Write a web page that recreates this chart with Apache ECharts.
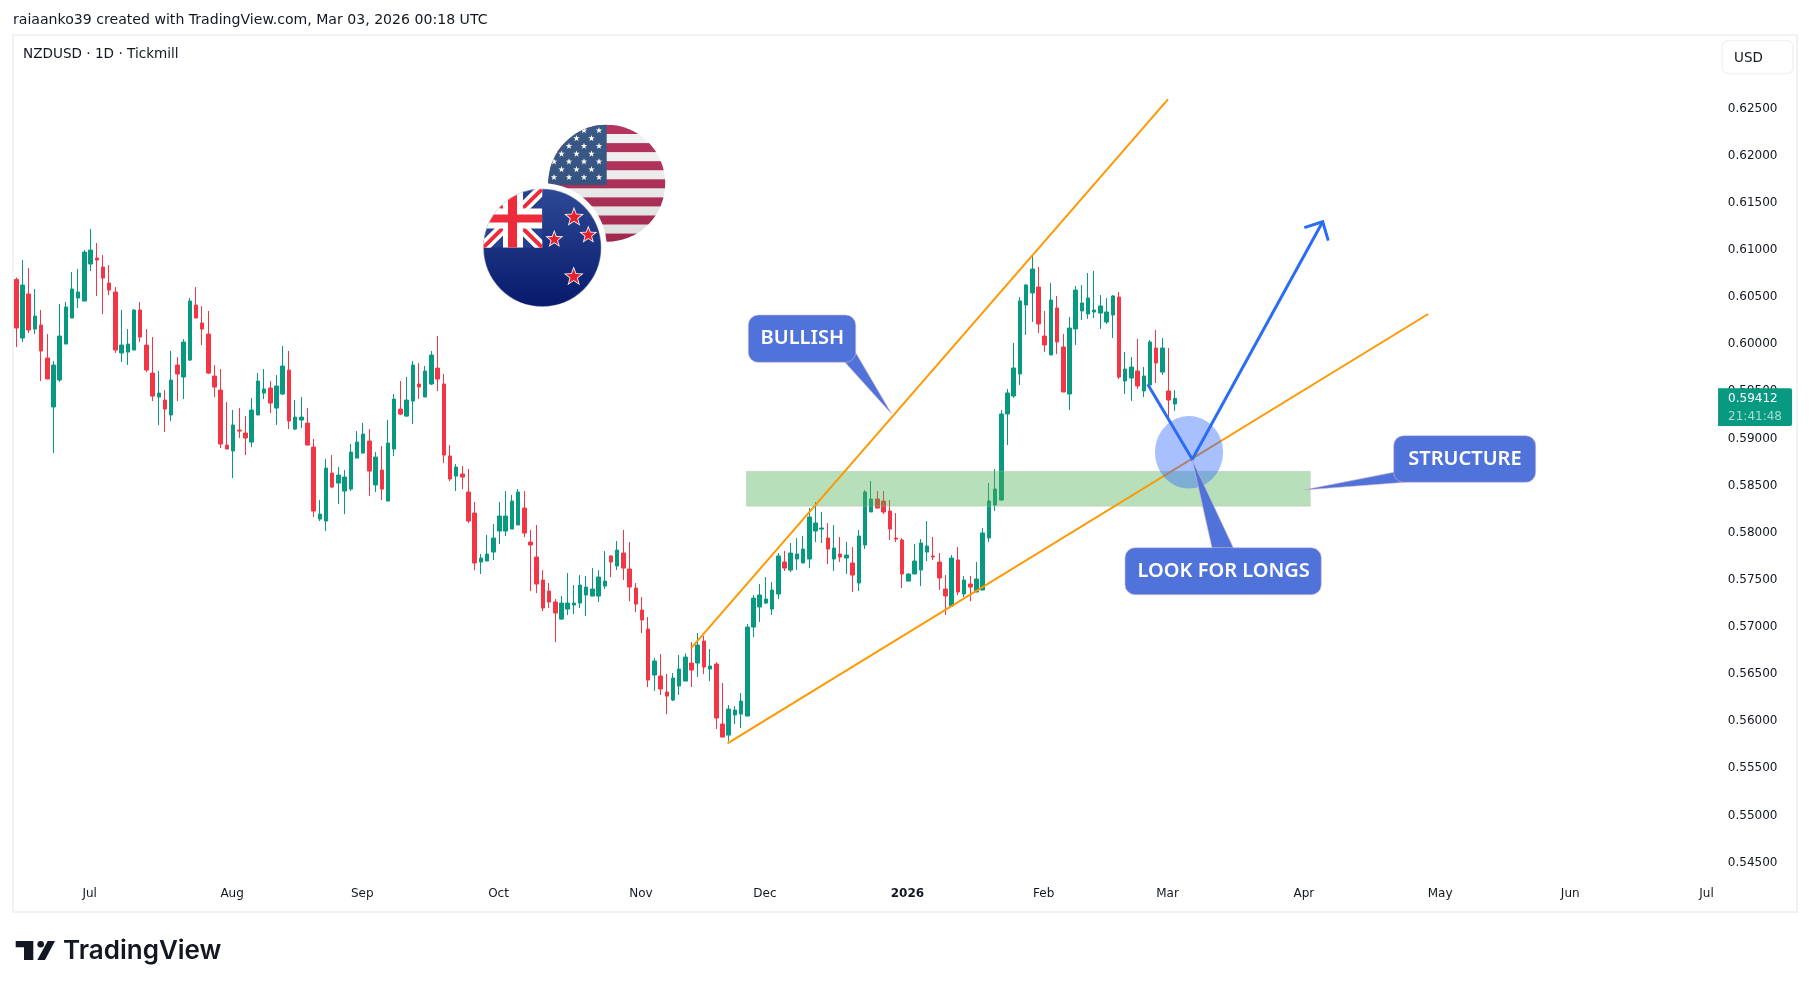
<!DOCTYPE html>
<html><head><meta charset="utf-8">
<style>html,body{margin:0;padding:0;background:#fff}#c{width:1810px;height:990px}</style>
<script src="https://cdn.jsdelivr.net/npm/echarts@6/dist/echarts.min.js"></script>
</head><body><div id="c"></div>
<script>
const opens=[.60674,.60052,.60519,.60147,.60190,.59840,.59320,.59606,.59988,.60264,
.60476,.60444,.60837,.60901,.60805,.60635,.60540,.59893,.59903,.59924,
.60349,.59977,.59680,.59426,.59394,.59235,.59765,.59638,.59818,.60402,
.60211,.60094,.59648,.59500,.58916,.58853,.59075,.59044,.58948,.59235,
.59468,.59521,.59309,.59458,.59712,.59086,.59182,.59150,.58895,.58131,
.58110,.58619,.58513,.58428,.58449,.58778,.58831,.58959,.58492,.58651,
.58322,.58874,.59298,.59224,.59383,.59564,.59426,.59564,.59733,.59564,
.58800,.58587,.58609,.58418,.58195,.57675,.57686,.57781,.58004,.58004,
.58025,.58068,.58248,.57887,.57728,.57484,.57367,.57251,.57070,.57176,
.57219,.57240,.57325,.57314,.57314,.57420,.57739,.57633,.57771,.57601,
.57399,.57166,.56964,.56476,.56466,.56296,.56211,.56359,.56412,.56603,
.56603,.56837,.56540,.56593,.55956,.55839,.56052,.56062,.56041,.56985,
.57198,.57240,.57176,.57336,.57675,.57590,.57707,.57665,.57707,.58004,
.58025,.57930,.57707,.57760,.57718,.57665,.57452,.57856,.58206,.58344,
.58322,.58216,.57930,.57909,.57473,.57548,.57590,.57781,.57739,.57675,
.57389,.57208,.57697,.57336,.57442,.57357,.57378,.57930,.58280,.58333,
.59246,.59437,.59670,.60402,.60530,.60593,.60073,.59872,.60371,.59957,
.59458,.60148,.60339,.60307,.60328,.60317,.60222,.60296,.60487,.59596,
.59628,.59702,.59490,.59553,.59946,.59691,.59490,.59352];
const highs=[.60695,.60879,.60794,.60572,.60349,.60094,.59808,.60412,.60434,.60752,
.60784,.60985,.61208,.61060,.60932,.60826,.60593,.60349,.60147,.60359,
.60434,.60147,.60062,.59702,.59500,.59914,.59850,.60041,.60476,.60593,
.60391,.60338,.59765,.59723,.59373,.59288,.59309,.59224,.59415,.59680,
.59723,.59595,.59659,.59967,.59914,.59394,.59426,.59309,.58980,.58333,
.58768,.58810,.58683,.58651,.58927,.59065,.59150,.59086,.58842,.58906,
.59182,.59458,.59595,.59638,.59808,.59786,.59755,.59914,.60073,.59670,
.58916,.58715,.58694,.58662,.58312,.57760,.57962,.58078,.58312,.58429,
.58386,.58450,.58429,.58015,.58068,.57590,.57452,.57283,.57314,.57558,
.57431,.57537,.57527,.57611,.57590,.57792,.57749,.57898,.58015,.57887,
.57452,.57304,.57092,.56657,.56699,.56487,.56497,.56688,.56706,.56826,
.56922,.56890,.56752,.56614,.56391,.56158,.56147,.56285,.57017,.57325,
.57442,.57516,.57463,.57771,.57792,.57877,.57930,.57951,.58248,.58312,
.58206,.58089,.58068,.57940,.57887,.57834,.58015,.58439,.58535,.58429,
.58429,.58333,.58195,.57930,.57558,.57866,.57919,.58110,.57941,.57771,
.57537,.57750,.57834,.57527,.57527,.57675,.58036,.58514,.58662,.59288,
.59511,.59999,.60487,.60625,.60933,.60806,.60339,.60636,.60498,.60095,
.60275,.60604,.60615,.60742,.60763,.60508,.60477,.60508,.60540,.59904,
.59851,.60042,.59744,.60031,.60137,.60052,.59946,.59500];
const lows=[.59956,.60009,.60105,.60094,.59595,.59617,.58831,.59585,.59988,.60264,
.60370,.60444,.60763,.60497,.60306,.60508,.59893,.59797,.59765,.59924,
.60009,.59691,.59383,.59129,.59054,.59171,.59383,.59404,.59808,.60264,
.59977,.59670,.59426,.58885,.58874,.58566,.58991,.58810,.58895,.59235,
.59404,.59256,.59129,.59447,.59086,.59075,.59097,.58916,.58152,.58110,
.58004,.58460,.58290,.58184,.58428,.58778,.58831,.58375,.58418,.58333,
.58322,.58800,.59235,.59213,.59139,.59404,.59426,.59553,.59489,.58725,
.58534,.58428,.58449,.58089,.57590,.57548,.57686,.57696,.57866,.57951,
.58025,.58068,.57940,.57367,.57346,.57155,.57187,.56826,.57060,.57113,
.57123,.57187,.57102,.57314,.57251,.57389,.57516,.57590,.57484,.57261,
.57145,.56922,.56349,.56306,.56264,.56062,.56200,.56264,.56412,.56349,
.56455,.56487,.56412,.55903,.55818,.55776,.55956,.55914,.56041,.56879,
.57039,.57229,.57113,.57283,.57580,.57569,.57590,.57665,.57611,.57887,
.57877,.57654,.57580,.57675,.57548,.57357,.57367,.57813,.58206,.58248,
.58185,.57909,.57887,.57399,.57473,.57548,.57420,.57686,.57697,.57378,
.57113,.57208,.57325,.57304,.57261,.57357,.57378,.57888,.58216,.58323,
.58917,.59416,.59553,.60084,.60222,.60105,.59904,.59872,.59882,.59479,
.59288,.59978,.60243,.60254,.60264,.60148,.60201,.60052,.59617,.59458,
.59384,.59511,.59426,.59553,.59575,.59660,.59161,.59278];
const closes=[.60158,.60614,.60137,.60285,.59914,.59617,.59765,.60073,.60381,.60572,
.60540,.60964,.60985,.60879,.60688,.60561,.59924,.59977,.59988,.60349,
.60062,.59712,.59436,.59468,.59298,.59606,.59670,.60009,.60444,.60264,
.60147,.59680,.59532,.58927,.58874,.59129,.59065,.58991,.59288,.59595,
.59511,.59362,.59542,.59755,.59171,.59213,.59213,.58916,.58216,.58184,
.58672,.58471,.58598,.58577,.58842,.58948,.59033,.58640,.58789,.58449,
.58937,.59404,.59245,.59394,.59765,.59532,.59702,.59871,.59617,.58810,
.58556,.58683,.58577,.58110,.57665,.57718,.57760,.57930,.58163,.58163,
.58322,.58418,.57983,.57856,.57442,.57187,.57251,.57134,.57240,.57240,
.57240,.57431,.57410,.57389,.57516,.57473,.57675,.57802,.57611,.57410,
.57229,.57060,.56423,.56625,.56328,.56253,.56444,.56540,.56667,.56529,
.56794,.56561,.56572,.56020,.55818,.56115,.56105,.56200,.56985,.57293,
.57325,.57283,.57378,.57739,.57611,.57771,.57760,.57813,.58153,.58089,
.58036,.57813,.57824,.57728,.57749,.57537,.57951,.58418,.58344,.58248,
.58206,.58025,.57919,.57548,.57548,.57686,.57877,.57845,.57728,.57506,
.57315,.57718,.57357,.57484,.57410,.57495,.57983,.58323,.58450,.59246,
.59469,.59734,.60445,.60615,.60784,.60201,.59978,.60455,.60010,.59479,
.60158,.60561,.60424,.60477,.60349,.60392,.60328,.60498,.59638,.59723,
.59744,.59543,.59649,.60010,.59787,.59946,.59394,.59412];

const tickBars=[12,35,56,78,101,121,144,166,186,208,230,251,273];
const tickLabels=['Jul','Aug','Sep','Oct','Nov','Dec','2026','Feb','Mar','Apr','May','Jun','Jul'];
const barCount=275;

// drawings, in [bar index, price]
const upperTrend=[[108.9,.56760],[185.9,.62585]];
const lowerTrend=[[114.8,.55752],[227.9,.60307]];
const arrowShaft=[[182.63,.59561],[189.83,.58765],[210.88,.61286]];
const arrowHead=[[207.91,.61223],[210.88,.61286],[211.78,.61085]];
const zoneBars=[117.84,208.88];
const zonePrices=[.58638,.58267];
const circleCentre=[189.30,.58840];
const circleRadius=[5.49,.00385];
const calloutTexts=['BULLISH','STRUCTURE','LOOK FOR LONGS'];
const calloutBoxes=[[118.16,135.50,.60296,.59794],[222.34,245.26,.59016,.58521],[178.97,210.65,.57827,.57329]];
const calloutTails=[[[141.31,.59246],[135.50,.59896],[133.77,.59794]],
                    [[207.75,.58439],[222.34,.58627],[224.16,.58521]],
                    [[189.83,.58758],[196.45,.57827],[193.01,.57827]]];
const calloutCentres=[[126.88,.60060],[233.85,.58786],[194.90,.57598]];
const lastPrice=.59412, countdown='21:41:48', tagBar=274.7, tagBars=11.95;

const FONT='"DejaVu Sans"';
const GREEN='#089981',RED='#F23645',BOX='#4F73D8',BLUE='#2A6DF4';

// dates of the bars
const dates=[];
for(let d=new Date(Date.UTC(2025,5,13));dates.length<barCount;d=new Date(d.getTime()+864e5)){
  const w=d.getUTCDay(); if(w!==0&&w!==6) dates.push(d.toISOString().slice(0,10));
}
const ohlc=opens.map((o,i)=>[o,closes[i],lows[i],highs[i]]);

function star(cx,cy,r,ratio){let p=[];for(let i=0;i<10;i++){const a=-Math.PI/2+i*Math.PI/5,q=i%2?r*(ratio||.4):r;p.push((cx+q*Math.cos(a)).toFixed(2)+','+(cy+q*Math.sin(a)).toFixed(2));}return p.join(' ');}
function flagsSvg(){
  let s='<svg xmlns="http://www.w3.org/2000/svg" width="240" height="220" viewBox="0 0 240 220"><defs>'+
  '<clipPath id="u"><circle cx="146.7" cy="83.3" r="58.5"/></clipPath><clipPath id="n"><circle cx="82.3" cy="147.7" r="59"/></clipPath>'+
  '<clipPath id="j"><rect x="23" y="89" width="59.3" height="58.7"/></clipPath>'+
  '<linearGradient id="b" x1="0" y1="0" x2="0" y2="1"><stop offset="0" stop-color="#2F4B96"/><stop offset="1" stop-color="#06186A"/></linearGradient>'+
  '<linearGradient id="h" x1="0" y1="0" x2="0" y2="1"><stop offset="0" stop-color="#fff" stop-opacity=".05"/><stop offset="1" stop-color="#000" stop-opacity=".1"/></linearGradient></defs>';
  s+='<g clip-path="url(#u)"><rect x="80" y="20" width="140" height="130" fill="#f2f2f2"/>';
  for(let i=0;i<7;i++) s+='<rect x="80" y="'+(25+i*18.1)+'" width="140" height="9" fill="#B02A55"/>';
  s+='<rect x="80" y="20" width="66.7" height="65" fill="#2F5080"/>';
  for(let r=0;r<7;r++)for(let c=0;c<6;c++){const x=139-c*15-(r%2?7.5:0),y=30.5+r*7.8;s+='<polygon points="'+star(x,y,3.4)+'" fill="#fff"/>';}
  s+='<rect x="80" y="20" width="140" height="130" fill="url(#h)"/></g>';
  s+='<circle cx="82.3" cy="147.7" r="64.5" fill="#fff"/>';
  s+='<g clip-path="url(#n)"><rect x="20" y="85" width="125" height="125" fill="url(#b)"/><g clip-path="url(#j)">';
  s+='<rect x="23" y="89" width="59.3" height="58.7" fill="#27408F"/>';
  s+='<path d="M23 89L82.3 147.7M82.3 89L23 147.7" stroke="#fff" stroke-width="11"/><path d="M23 89L82.3 147.7M82.3 89L23 147.7" stroke="#EE2B3B" stroke-width="4"/>';
  s+='<rect x="43" y="89" width="20" height="58.7" fill="#fff"/><rect x="23" y="108.5" width="59.3" height="20" fill="#fff"/>';
  s+='<rect x="48" y="89" width="9" height="58.7" fill="#EE2B3B"/><rect x="23" y="114.5" width="59.3" height="8" fill="#EE2B3B"/></g>';
  [[114,117.3,9],[128.3,135,8],[94.3,139.3,8],[113.7,176.7,9]].forEach(a=>{
    s+='<polygon points="'+star(a[0],a[1],a[2]+1.5,.42)+'" fill="#f4f4f4"/><polygon points="'+star(a[0],a[1],a[2]-1,.42)+'" fill="#E8202E"/>';
  });
  s+='</g><circle cx="82.3" cy="147.7" r="59" fill="none" stroke="#fff" stroke-opacity=".35" stroke-width="1.5"/></svg>';
  return 'data:image/svg+xml;charset=utf-8,'+encodeURIComponent(s);
}
const orangeLine=d=>({type:'line',xAxisIndex:1,data:d,showSymbol:false,silent:true,z:4,animation:false,
  lineStyle:{color:'#FF9800',width:2}});
const blueLine=d=>({type:'line',xAxisIndex:1,data:d,showSymbol:false,silent:true,z:6,animation:false,
  lineStyle:{color:BLUE,width:3,join:'miter'}});

const chart=echarts.init(document.getElementById('c'),null,{renderer:'canvas',width:1810,height:990});
chart.setOption({
  animation:false,backgroundColor:'#fff',
  grid:{left:13.2,top:60.175,width:barCount*6.195,height:848.25,containLabel:false},
  xAxis:[{type:'category',data:dates,boundaryGap:true,axisLine:{show:false},axisTick:{show:false},splitLine:{show:false},
    axisLabel:{inside:true,margin:9,color:'#131722',fontFamily:FONT,fontSize:12,hideOverlap:false,padding:[0,2,0,0],
      interval:(i)=>tickBars.indexOf(i)>=0,
      formatter:(v,i)=>{const t=tickLabels[tickBars.indexOf(i)];return t==='2026'?'{b|2026}':t;},
      rich:{b:{fontWeight:'bold',fontFamily:FONT,fontSize:12,color:'#131722'}}}},
    {type:'value',min:-0.5,max:barCount-0.5,show:false,splitLine:{show:false}}],
  yAxis:{type:'value',position:'right',min:.54,max:.63,interval:.005,scale:true,axisLine:{show:false},axisTick:{show:false},splitLine:{show:false},
    axisLabel:{margin:11,color:'#131722',fontFamily:FONT,fontSize:12,showMinLabel:false,showMaxLabel:false,
      formatter:v=>'{a|'+v.toFixed(5)+'}',
      rich:{a:{fontFamily:FONT,fontSize:12,color:'#131722',padding:[2.5,0,0,0]}}}},
  series:[
    {type:'candlestick',xAxisIndex:0,data:ohlc,barWidth:4,silent:true,z:2,
      itemStyle:{color:GREEN,color0:RED,borderColor:GREEN,borderColor0:RED,borderWidth:1}},
    {type:'custom',xAxisIndex:1,data:[[zoneBars[0],zonePrices[0]]],z:3,silent:true,
      renderItem:(p,api)=>{const a=api.coord([zoneBars[0],zonePrices[0]]),b=api.coord([zoneBars[1],zonePrices[1]]);
        return {type:'rect',shape:{x:a[0],y:a[1],width:b[0]-a[0],height:b[1]-a[1]},
          style:{fill:'rgba(76,175,80,0.4)',stroke:'rgba(190,190,190,0.35)',lineWidth:1}};}},
    orangeLine(upperTrend),orangeLine(lowerTrend),
    {type:'custom',xAxisIndex:1,data:[circleCentre],z:5,silent:true,
      renderItem:(p,api)=>{const c=api.coord(circleCentre),s=api.size(circleRadius);
        return {type:'ellipse',shape:{cx:c[0],cy:c[1],rx:s[0],ry:s[1]},style:{fill:'rgba(41,98,255,0.4)'}};}},
    blueLine(arrowShaft),blueLine(arrowHead),
    {type:'custom',xAxisIndex:1,data:calloutCentres,z:7,silent:true,
      renderItem:(p,api)=>{const i=p.dataIndex,b=calloutBoxes[i];
        const a=api.coord([b[0],b[2]]),z=api.coord([b[1],b[3]]),t=calloutTails[i].map(q=>api.coord(q)),c=api.coord(calloutCentres[i]);
        return {type:'group',children:[
          {type:'polygon',shape:{points:t},style:{fill:BOX,stroke:'rgba(215,180,215,0.6)',lineWidth:1}},
          {type:'rect',shape:{x:a[0],y:a[1],width:z[0]-a[0],height:z[1]-a[1],r:10},style:{fill:BOX,stroke:'rgba(215,180,215,0.6)',lineWidth:1}},
          {type:'polygon',shape:{points:[t[1],t[2],[(t[1][0]+t[2][0])/2,(t[1][1]+t[2][1])/2+(i==2?6:-6)]]},style:{fill:BOX}},
          {type:'text',style:{x:c[0],y:c[1]+1.5,text:calloutTexts[i],fill:'#fff',align:'center',verticalAlign:'middle',
            font:'600 20px "Noto Sans"'}}]};}},
    {type:'custom',xAxisIndex:1,data:[[tagBar,lastPrice]],z:9,silent:true,clip:false,
      renderItem:(p,api)=>{const c=api.coord([tagBar,lastPrice]),w=api.size([tagBars,0])[0];
        return {type:'group',children:[
          {type:'rect',shape:{x:c[0],y:c[1]-10,width:w,height:37.7,r:[0,2,2,0]},style:{fill:GREEN}},
          {type:'text',style:{x:c[0]+10,y:c[1]+1,text:lastPrice.toFixed(5),fill:'#fff',font:'12px '+FONT,verticalAlign:'middle'}},
          {type:'text',style:{x:c[0]+10,y:c[1]+18.5,text:countdown,fill:'#A9DDD2',font:'12px '+FONT,verticalAlign:'middle'}}]};}}
  ],
  graphic:{elements:[
    {type:'rect',z:0,silent:true,shape:{x:13,y:35,width:1784,height:877},style:{fill:'none',stroke:'#F1F2F4',lineWidth:2}},
    {type:'text',z:20,style:{x:13,y:20,text:'raiaanko39 created with TradingView.com, Mar 03, 2026 00:18 UTC',fill:'#131722',font:'14.1px '+FONT,verticalAlign:'middle'}},
    {type:'text',z:20,style:{x:23,y:54.5,text:'NZDUSD · 1D · Tickmill',fill:'#131722',font:'13.6px '+FONT,verticalAlign:'middle'}},
    {type:'rect',z:20,shape:{x:1722,y:40.5,width:71,height:33,r:6},style:{fill:'#fff',stroke:'#F1F2F4',lineWidth:1.5}},
    {type:'text',z:21,style:{x:1734,y:58,text:'USD',fill:'#131722',font:'13.5px '+FONT,verticalAlign:'middle'}},
    {type:'image',z:3,silent:true,style:{image:flagsSvg(),x:460,y:100,width:240,height:220}},
    {type:'polygon',z:20,shape:{points:[[15.7,941],[33.3,941],[33.3,960],[24,960],[24,947.3],[15.7,947.3]]},style:{fill:'#131722'}},
    {type:'circle',z:20,shape:{cx:40.7,cy:944.2,r:3.3},style:{fill:'#131722'}},
    {type:'polygon',z:20,shape:{points:[[47.7,941],[55,941],[45,960],[37.3,960]]},style:{fill:'#131722'}},
    {type:'text',z:20,style:{x:63,y:951,text:'TradingView',fill:'#131722',font:'600 26px Inter',verticalAlign:'middle'}}
  ]}
});
</script></body></html>
